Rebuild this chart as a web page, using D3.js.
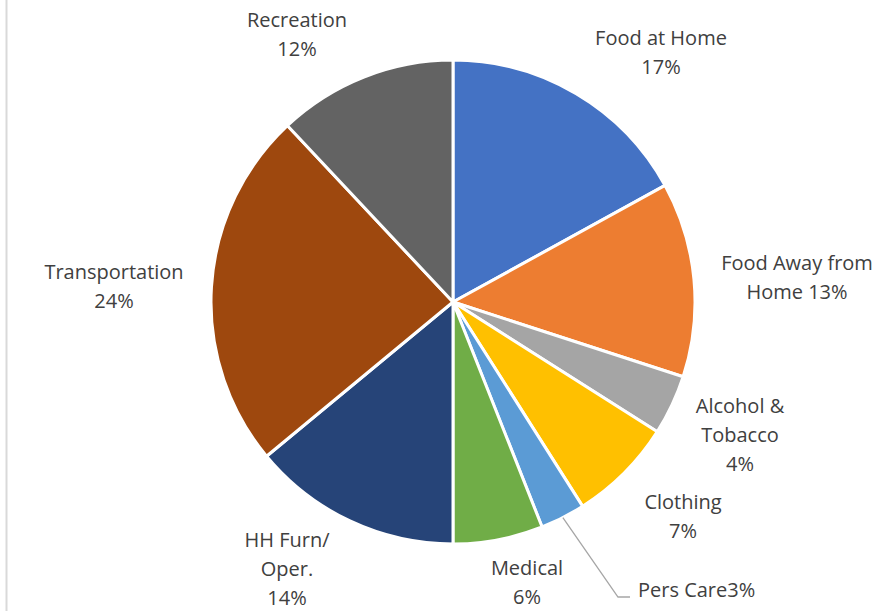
<!DOCTYPE html>
<html>
<head>
<meta charset="utf-8">
<script src="https://cdn.jsdelivr.net/npm/d3@7"></script>
<style>
  html, body { margin: 0; padding: 0; background: #fff; }
  svg { display: block; }
</style>
</head>
<body>
<svg id="chart" width="887" height="611"></svg>
<script>
// ---- data ----
const categories = ["Food at Home", "Food Away from Home", "Alcohol & Tobacco", "Clothing", "Pers Care", "Medical", "HH Furn/ Oper.", "Transportation", "Recreation"];
const values = [17, 13, 4, 7, 3, 6, 14, 24, 12];
const labelLines = [
  ["Food at Home", "17%"],
  ["Food Away from", "Home 13%"],
  ["Alcohol &", "Tobacco", "4%"],
  ["Clothing", "7%"],
  ["Pers Care3%"],
  ["Medical", "6%"],
  ["HH Furn/", "Oper.", "14%"],
  ["Transportation", "24%"],
  ["Recreation", "12%"]
];
const colors = ["#4472C4", "#ED7D31", "#A5A5A5", "#FFC000", "#5B9BD5", "#70AD47", "#264478", "#9E480E", "#636363"];

// ---- layout (label offsets from pie centre, first-line middle) ----
const labelLayout = [
  {dx: 208, dy: -264, anchor: "middle"},
  {dx: 344, dy: -39, anchor: "middle"},
  {dx: 287, dy: 104, anchor: "middle"},
  {dx: 230, dy: 200, anchor: "middle"},
  {dx: 185, dy: 288, anchor: "start"},
  {dx: 74, dy: 266, anchor: "middle"},
  {dx: -166, dy: 238, anchor: "middle"},
  {dx: -339, dy: -30, anchor: "middle"},
  {dx: -156, dy: -282, anchor: "middle"}
];

const W = 887, H = 611;
const cx = 453, cy = 302, R = 242;
const lineH = 29;

const svg = d3.select("#chart");

// left border line
svg.append("line")
  .attr("x1", 6.5).attr("x2", 6.5).attr("y1", 0).attr("y2", H)
  .attr("stroke", "#D9D9D9").attr("stroke-width", 2);

const pie = d3.pie().sort(null).value(d => d)(values);
const arc = d3.arc().innerRadius(0).outerRadius(R);

const g = svg.append("g").attr("transform", `translate(${cx},${cy})`);

g.selectAll("path.slice")
  .data(pie)
  .join("path")
  .attr("class", "slice")
  .attr("d", arc)
  .attr("fill", (d, i) => colors[i])
  .attr("stroke", "#fff")
  .attr("stroke-width", 3)
  .attr("stroke-linejoin", "round");

// leader line for Pers Care
{
  const d = pie[4];
  const mid = (d.startAngle + d.endAngle) / 2;
  const p0 = [Math.sin(mid) * R, -Math.cos(mid) * R];
  const L = labelLayout[4];
  const yEnd = L.dy + 7;
  const p1 = [L.dx - 20, yEnd];
  const p2 = [L.dx - 8, yEnd];
  g.append("polyline")
    .attr("points", [p0, p1, p2].map(p => p.join(",")).join(" "))
    .attr("fill", "none")
    .attr("stroke", "#A6A6A6")
    .attr("stroke-width", 1.3);
}

// labels
const labels = g.selectAll("text.lbl")
  .data(pie)
  .join("text")
  .attr("class", "lbl")
  .attr("font-family", "'Open Sans', sans-serif")
  .attr("font-size", 20)
  .attr("fill", "#404040")
  .attr("text-anchor", (d, i) => labelLayout[i].anchor);

labels.each(function(d, i) {
  const t = d3.select(this);
  const L = labelLayout[i];
  labelLines[i].forEach((ln, k) => {
    t.append("tspan")
      .attr("x", L.dx)
      .attr("y", L.dy + k * lineH)
      .attr("dy", "0.35em")
      .text(ln);
  });
});
</script>
</body>
</html>
